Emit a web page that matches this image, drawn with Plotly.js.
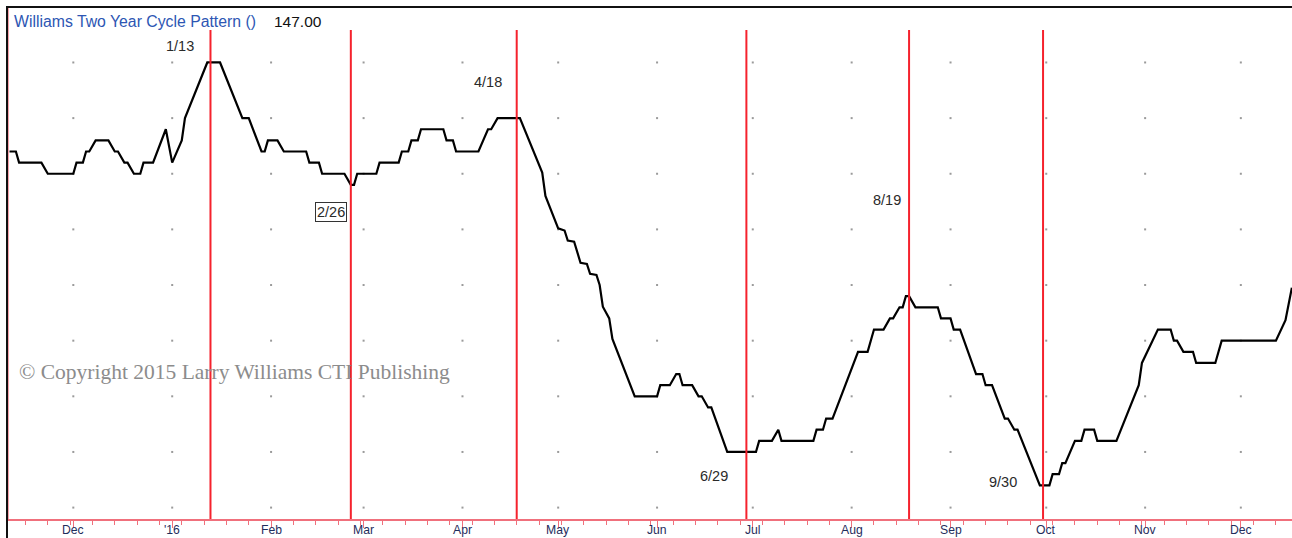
<!DOCTYPE html>
<html>
<head>
<meta charset="utf-8">
<script src="https://cdn.plot.ly/plotly-3.0.1.min.js"></script>
<style>
  html, body { margin: 0; padding: 0; background: #ffffff; }
  #chart { width: 1292px; height: 538px; }
</style>
</head>
<body>
<div id="chart"></div>
<script>
// ---- data (vertices of the cycle pattern line) ----
const lineDates = [
  '2015-11-11','2015-11-13','2015-11-14','2015-11-21','2015-11-23','2015-12-01','2015-12-02','2015-12-04',
  '2015-12-05','2015-12-06','2015-12-08','2015-12-12','2015-12-14','2015-12-15','2015-12-17','2015-12-18',
  '2015-12-20','2015-12-22','2015-12-23','2015-12-26','2015-12-30','2016-01-01','2016-01-04','2016-01-05',
  '2016-01-12','2016-01-16','2016-01-23','2016-01-25','2016-01-29','2016-01-30','2016-01-31','2016-02-03',
  '2016-02-05','2016-02-12','2016-02-13','2016-02-16','2016-02-17','2016-02-24','2016-02-26','2016-02-27',
  '2016-02-28','2016-03-05','2016-03-06','2016-03-12','2016-03-13','2016-03-15','2016-03-16','2016-03-18',
  '2016-03-19','2016-03-26','2016-03-27','2016-03-29','2016-03-30','2016-04-06','2016-04-09','2016-04-10',
  '2016-04-12','2016-04-19','2016-04-26','2016-04-27','2016-05-01','2016-05-03','2016-05-04','2016-05-06',
  '2016-05-08','2016-05-10','2016-05-11','2016-05-13','2016-05-14','2016-05-15','2016-05-17','2016-05-18',
  '2016-05-25','2016-06-01','2016-06-02','2016-06-05','2016-06-07','2016-06-08','2016-06-09','2016-06-12',
  '2016-06-14','2016-06-15','2016-06-17','2016-06-18','2016-06-23','2016-07-02','2016-07-03','2016-07-07',
  '2016-07-09','2016-07-10','2016-07-20','2016-07-21','2016-07-23','2016-07-24','2016-07-26','2016-08-03',
  '2016-08-06','2016-08-08','2016-08-11','2016-08-13','2016-08-14','2016-08-16','2016-08-17','2016-08-18',
  '2016-08-19','2016-08-21','2016-08-28','2016-08-29','2016-09-01','2016-09-02','2016-09-04','2016-09-09',
  '2016-09-11','2016-09-12','2016-09-14','2016-09-18','2016-09-19','2016-09-21','2016-09-22','2016-09-29',
  '2016-10-02','2016-10-03','2016-10-05','2016-10-06','2016-10-07','2016-10-10','2016-10-12','2016-10-13',
  '2016-10-16','2016-10-17','2016-10-23','2016-10-30','2016-10-31','2016-11-05','2016-11-09','2016-11-10',
  '2016-11-11','2016-11-13','2016-11-16','2016-11-17','2016-11-23','2016-11-25','2016-12-12','2016-12-15',
  '2016-12-17'
];
const lineValues = [
  174,174,172,172,170,170,172,172,
  174,174,176,176,174,174,172,172,
  170,170,172,172,178,172,176,180,
  190,190,180,180,174,174,176,176,
  174,174,172,172,170,170,168,168,
  170,170,172,172,174,174,176,176,
  178,178,176,176,174,174,178,178,
  180,180,170.2,166,160.2,159.8,158,157.8,
  154,153.8,152,151.8,150,146.1,144,140.3,
  130,130,132,132,134,134,132,132,
  130,130,128,128,120,120,122,122,
  124,122,122,124,124,126,126,138,
  138,142,142,144,144,146,146,148,
  148,146,146,144,144,142,142,134,
  134,132,132,126,126,124,124,114,
  114,116,116,118,118,122,122,124,
  124,122,122,132,136,142,142,140,
  140,138,138,136,136,140,140,143.7,
  149.5
];

// cycle turning-point dates and their labels
const cycleDates  = ['2016-01-13','2016-02-26','2016-04-18','2016-06-29','2016-08-19','2016-09-30'];
const cycleLabels = ['1/13','2/26','4/18','6/29','8/19','9/30'];

// month ticks
const monthTickDates  = ['2015-12-01','2016-01-01','2016-02-01','2016-03-01','2016-04-01','2016-05-01','2016-06-01',
                         '2016-07-01','2016-08-01','2016-09-01','2016-10-01','2016-11-01','2016-12-01'];
const monthTickLabels = ['Dec',"'16",'Feb','Mar','Apr','May','Jun','Jul','Aug','Sep','Oct','Nov','Dec'];

// horizontal grid levels (dotted grid)
const gridLevels = [110,120,130,140,150,160,170,180,190];

const titleText = 'Williams Two Year Cycle Pattern ()';
const lastValueText = '147.00';
const copyrightText = '\u00A9 Copyright 2015 Larry Williams CTI Publishing';

// ---- styling / placement (not data) ----
const ML = 9, MT = 8, MB = 19, W = 1292, H = 538;
const plotW = W - ML, plotH = H - MT - MB;
const pxToPaperX = px => (px - ML) / plotW;
const pxToPaperY = py => (H - MB - py) / plotH;
// label placement: [xshift from red line (px), label centre y (px), boxed]
const labelPlacement = [[-30, 46, false], [-20, 212, true], [-29, 82, false], [-32, 476, false], [-22, 200, false], [-40, 482, false]];

const axisPink = '#f0707c';
const sansFont = 'Liberation Sans, Arial, sans-serif';

// dotted grid points built from tick positions x grid levels
const dotX = [], dotY = [];
monthTickDates.forEach(d => gridLevels.forEach(v => { dotX.push(d); dotY.push(v); }));

const traces = [
  {
    x: dotX, y: dotY, type: 'scatter', mode: 'markers',
    marker: { size: 2, color: '#9a9a9a', symbol: 'square', line: { width: 0 } },
    hoverinfo: 'skip', showlegend: false
  },
  {
    x: lineDates, y: lineValues, type: 'scatter', mode: 'lines',
    line: { color: '#000000', width: 2.2 },
    showlegend: false
  }
];

const shapes = [];
cycleDates.forEach(d => {
  shapes.push({
    type: 'line', xref: 'x', yref: 'paper', x0: d, x1: d, y0: 0, y1: pxToPaperY(30),
    line: { color: '#f5222d', width: 2 }, layer: 'above'
  });
});
// black frame (top and left)
shapes.push({ type: 'line', xref: 'paper', yref: 'paper', x0: pxToPaperX(7), x1: pxToPaperX(7),
  y0: pxToPaperY(H), y1: pxToPaperY(6), line: { color: '#111111', width: 2 }, layer: 'above' });
shapes.push({ type: 'line', xref: 'paper', yref: 'paper', x0: pxToPaperX(6), x1: pxToPaperX(W),
  y0: pxToPaperY(7), y1: pxToPaperY(7), line: { color: '#111111', width: 2 }, layer: 'above' });

const annotations = [];
cycleDates.forEach((d, i) => {
  const [dx, py, boxed] = labelPlacement[i];
  const a = {
    x: d, xref: 'x', y: pxToPaperY(py), yref: 'paper', xshift: dx,
    text: cycleLabels[i], showarrow: false, xanchor: 'center', yanchor: 'middle',
    font: { family: sansFont, size: 14.5, color: '#2a2a2a' }
  };
  if (boxed) { a.bordercolor = '#333333'; a.borderwidth = 1; a.borderpad = 1; a.bgcolor = '#ffffff'; }
  annotations.push(a);
});
// month tick labels (drawn as annotations so they sit close under the axis)
monthTickDates.forEach((d, i) => {
  annotations.push({
    x: d, xref: 'x', y: pxToPaperY(H - 0.5), yref: 'paper', xanchor: 'center', yanchor: 'bottom',
    text: monthTickLabels[i], showarrow: false, borderpad: 0,
    font: { family: sansFont, size: 12.2, color: '#1f2d5c' }
  });
});
annotations.push({
  x: pxToPaperX(11.5), y: pxToPaperY(21.5), xref: 'paper', yref: 'paper', xanchor: 'left', yanchor: 'middle',
  text: titleText, showarrow: false,
  font: { family: sansFont, size: 15.8, color: '#2d56b3' }
});
annotations.push({
  x: pxToPaperX(272), y: pxToPaperY(21.5), xref: 'paper', yref: 'paper', xanchor: 'left', yanchor: 'middle',
  text: lastValueText, showarrow: false,
  font: { family: sansFont, size: 15.5, color: '#111111' }
});
annotations.push({
  x: pxToPaperX(17), y: pxToPaperY(372), xref: 'paper', yref: 'paper', xanchor: 'left', yanchor: 'middle',
  text: copyrightText, showarrow: false,
  font: { family: 'Liberation Serif, Times New Roman, serif', size: 21.5, color: '#8c8c8c' }
});

const layout = {
  width: W, height: H,
  margin: { l: ML, r: 0, t: MT, b: MB, pad: 0 },
  paper_bgcolor: '#ffffff', plot_bgcolor: '#ffffff',
  showlegend: false,
  xaxis: {
    type: 'date',
    range: ['2015-11-10 20:10', '2016-12-17 01:00'],
    tickmode: 'array', tickvals: monthTickDates, ticktext: monthTickLabels,
    showticklabels: false,
    ticks: 'outside', ticklen: 7, tickwidth: 1, tickcolor: axisPink,
    showline: true, linecolor: axisPink, linewidth: 1.5,
    showgrid: false, zeroline: false, automargin: false,
    minor: { ticks: 'outside', ticklen: 4, tickwidth: 1, tickcolor: axisPink,
             tick0: '2015-11-02', dtick: 7 * 86400000, showgrid: false }
  },
  yaxis: {
    range: [107.95, 199.79],
    showgrid: false, zeroline: false, showticklabels: false, ticks: '',
    showline: true, linecolor: '#f6a3ab', linewidth: 1, automargin: false
  },
  shapes: shapes,
  annotations: annotations
};

Plotly.newPlot('chart', traces, layout, { staticPlot: true, displayModeBar: false });
</script>
</body>
</html>
